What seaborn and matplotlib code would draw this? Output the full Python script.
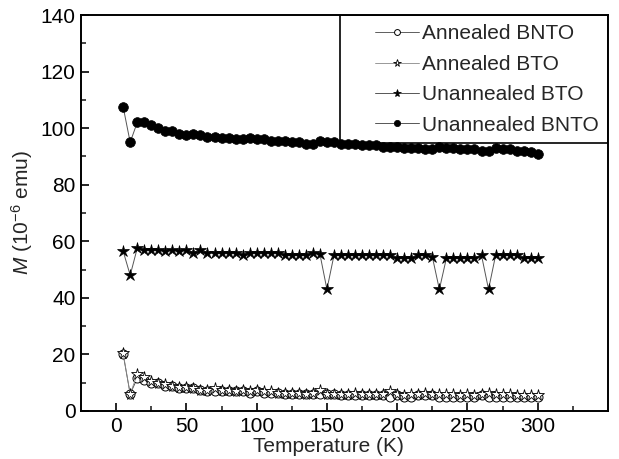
import numpy as np
import pandas as pd
import matplotlib
matplotlib.use("Agg")
import matplotlib.pyplot as plt
from matplotlib.patches import Rectangle
import seaborn as sns

# Temperature points (K), every 5 K from 5 to 300
temperature = list(range(5, 301, 5))

# Magnetisation values (10^-6 emu)
annealed_bnto = [20.0, 6.0, 11.5, 11.0, 10.0, 10.0, 9.0, 9.0, 8.0, 8.0,
                 8.0, 7.5, 7.0, 7.0, 7.0, 7.0, 7.0, 7.0, 6.5, 7.0,
                 6.5, 6.5, 6.5, 6.0, 6.0, 6.0, 6.0, 6.0, 6.0, 6.0,
                 6.0, 5.5, 5.5, 5.5, 5.5, 5.5, 5.5, 5.5, 5.0, 5.5,
                 5.0, 5.0, 5.5, 5.5, 5.5, 5.0, 5.0, 5.0, 5.0, 5.0,
                 5.0, 5.5, 5.0, 5.0, 5.0, 5.0, 5.0, 5.0, 5.0, 5.0]
annealed_bto = [20.5, 6.0, 13.0, 12.0, 10.5, 10.0, 9.5, 9.0, 8.5, 8.5,
                8.0, 7.5, 7.5, 8.0, 7.5, 7.5, 7.0, 7.5, 7.0, 7.5,
                7.0, 7.0, 6.5, 6.5, 6.5, 6.5, 6.0, 6.5, 7.5, 6.0,
                6.0, 6.0, 6.0, 6.5, 6.0, 6.0, 6.0, 6.0, 7.0, 6.0,
                5.5, 6.0, 6.0, 6.5, 6.0, 6.0, 6.0, 6.0, 5.5, 6.0,
                5.5, 6.0, 6.5, 6.0, 6.0, 6.0, 5.5, 5.5, 5.5, 5.5]
unannealed_bto = [56.5, 48.0, 57.5, 57.0, 57.0, 57.0, 56.5, 57.0, 56.5, 57.0,
                  56.0, 57.0, 56.0, 56.0, 56.0, 56.0, 56.0, 55.0, 56.0, 56.0,
                  56.0, 56.0, 56.0, 55.0, 55.0, 55.0, 55.0, 56.0, 55.5, 43.0,
                  55.0, 55.0, 55.0, 55.0, 55.0, 55.0, 55.0, 55.0, 55.0, 54.0,
                  54.0, 54.0, 55.0, 55.0, 54.5, 43.0, 54.0, 54.0, 54.0, 54.0,
                  54.0, 55.0, 43.0, 55.0, 55.0, 55.0, 55.0, 54.0, 54.0, 54.0]
unannealed_bnto = [107.5, 95.0, 102.0, 102.0, 101.0, 100.0, 99.0, 99.0, 98.0, 97.5,
                   98.0, 97.5, 97.0, 97.0, 96.5, 96.5, 96.0, 96.0, 96.5, 96.0,
                   96.0, 95.5, 95.5, 95.5, 95.0, 95.0, 94.5, 94.5, 95.5, 95.0,
                   95.0, 94.5, 94.5, 94.5, 94.0, 94.0, 94.0, 93.5, 93.5, 93.5,
                   93.0, 93.0, 93.0, 92.5, 92.5, 93.5, 93.0, 93.0, 92.5, 92.5,
                   92.5, 92.0, 92.0, 93.0, 92.5, 92.5, 92.0, 92.0, 91.5, 91.0]

df = pd.DataFrame({'T': temperature,
                   'Annealed BNTO': annealed_bnto,
                   'Annealed BTO': annealed_bto,
                   'Unannealed BTO': unannealed_bto,
                   'Unannealed BNTO': unannealed_bnto})

sns.set_style('ticks')
plt.rcParams['font.family'] = ['Liberation Sans', 'DejaVu Sans']
plt.rcParams['mathtext.fontset'] = 'custom'
plt.rcParams['mathtext.rm'] = 'Liberation Sans'
plt.rcParams['mathtext.it'] = 'Liberation Sans:italic'

W, H = 619, 459
fig = plt.figure(figsize=(W / 100, H / 100), dpi=100)
# axes frame in pixels: left 81, right 608, top 15, bottom 411
ax = fig.add_axes([81 / W, 1 - 411 / H, (608 - 81) / W, (411 - 15) / H])

# Style for each series: marker, size, face colour, line colour
styles = {
    'Annealed BNTO': dict(marker='o', markersize=6.5, markerfacecolor='white',
                          markeredgecolor='black', markeredgewidth=0.7,
                          color='#444444', linewidth=0.6),
    'Annealed BTO': dict(marker='*', markersize=8.5, markerfacecolor='white',
                         markeredgecolor='black', markeredgewidth=0.6,
                         color='#888888', linewidth=0.6),
    'Unannealed BTO': dict(marker='*', markersize=9, markerfacecolor='black',
                           markeredgecolor='black', markeredgewidth=0.5,
                           color='#555555', linewidth=0.7),
    'Unannealed BNTO': dict(marker='o', markersize=7, markerfacecolor='black',
                            markeredgecolor='black', markeredgewidth=0.5,
                            color='#555555', linewidth=0.7),
}
for name, st in styles.items():
    sns.lineplot(data=df, x='T', y=name, ax=ax, label=name, sort=False, **st)

ax.set_xlim(-25, 350)
ax.set_ylim(0, 140)
ax.set_xticks([0, 50, 100, 150, 200, 250, 300])
ax.set_xticks([25, 75, 125, 175, 225, 275, 325], minor=True)
ax.set_yticks(range(0, 141, 20))
ax.set_yticks(range(10, 140, 20), minor=True)
ax.tick_params(which='major', direction='in', length=6, width=1.2,
               labelsize=15, pad=4, colors='black')
ax.tick_params(which='minor', direction='in', length=3.5, width=1.2)
for side in ['left', 'bottom', 'top', 'right']:
    ax.spines[side].set_linewidth(1.4)
    ax.spines[side].set_color('black')

ax.set_xlabel('Temperature (K)', fontsize=15, labelpad=1, x=0.469)
ax.set_ylabel(r'$\mathit{M}$ (10$^{-6}$ emu)', fontsize=15, labelpad=3.5)

# legend content, with a separate box drawn to the size of the original frame
leg = ax.legend(loc='upper right', borderaxespad=0, fontsize=15,
                frameon=False, markerscale=0.65, handlelength=2.1,
                labelspacing=0.55, borderpad=0.45, handletextpad=0.15)
box_x0 = (340 - 81) / (608 - 81)
box_h = (143 - 15) / (411 - 15)
ax.add_patch(Rectangle((box_x0, 1 - box_h), 1 - box_x0, box_h,
                       transform=ax.transAxes, fill=False,
                       edgecolor='black', linewidth=1.2, zorder=1.5))

fig.savefig('out.png', dpi=100)
